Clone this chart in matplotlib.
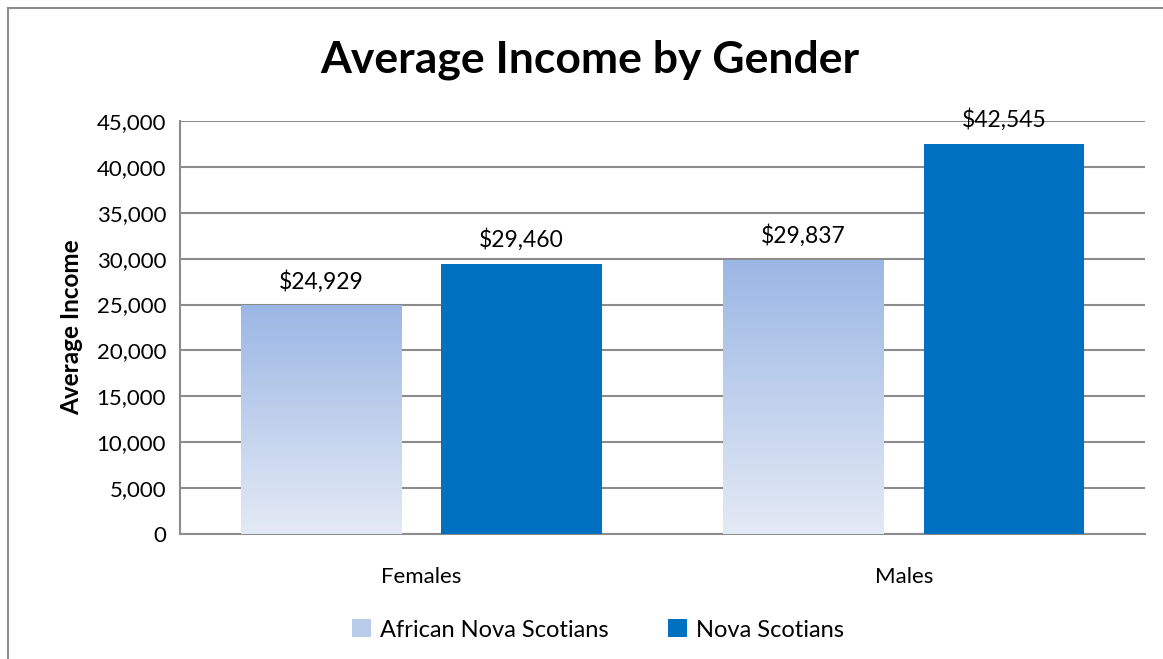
import numpy as np
import matplotlib.pyplot as plt
from matplotlib.patches import Rectangle
from matplotlib.ticker import FuncFormatter

categories = ['Females', 'Males']
series_names = ['African Nova Scotians', 'Nova Scotians']
ans_values = [24929, 29837]
ns_values = [29460, 42545]

plt.rcParams['font.family'] = ['Lato', 'DejaVu Sans']

fig = plt.figure(figsize=(11.63, 6.59), dpi=100)
ax = fig.add_axes([180/1163, 1 - 534/659, 965/1163, 413/659])

# outer chart border
fig.patches.append(Rectangle((8/1163, -0.01), 1.02, 1 - 8/659 + 0.01, transform=fig.transFigure,
                             fill=False, edgecolor='#8c8c8c', linewidth=1.5))

x = np.arange(len(categories))
w = 0.333
off = (w + 0.083) / 2

grad_top = np.array([155, 183, 228]) / 255
grad_bot = np.array([228, 234, 245]) / 255
ramp = np.linspace(0, 1, 256)[:, None]
grad_img = (grad_bot * (1 - ramp) + grad_top * ramp)[:, None, :]

bars1 = ax.bar(x - off, ans_values, w, color='none', edgecolor='none', label=series_names[0], zorder=3)
for b in bars1:
    ax.imshow(grad_img, extent=[b.get_x(), b.get_x() + b.get_width(), 0, b.get_height()],
              origin='lower', aspect='auto', zorder=3)
bars2 = ax.bar(x + off, ns_values, w, color='#0070C0', label=series_names[1], zorder=3)

for b, v in list(zip(bars1, ans_values)) + list(zip(bars2, ns_values)):
    ax.text(b.get_x() + b.get_width() / 2, v + 1400, f'${v:,}', ha='center', va='bottom', fontsize=16.5)

ax.set_xlim(-0.5, 1.5)
ax.set_ylim(0, 45000)
ax.set_yticks(np.arange(0, 45001, 5000))
ax.yaxis.set_major_formatter(FuncFormatter(lambda v, p: f'{int(v):,}'))
ax.set_xticks(x)
ax.set_xticklabels(categories)
ax.tick_params(axis='both', length=0, labelsize=16, pad=10)
ax.tick_params(axis='x', pad=24)
ax.grid(axis='y', color='#8c8c8c', linewidth=1.5, zorder=0)
ax.set_axisbelow(True)
for s in ['top', 'right']:
    ax.spines[s].set_visible(False)
for s in ['left', 'bottom']:
    ax.spines[s].set_color('#8c8c8c')
    ax.spines[s].set_linewidth(1.5)

ax.set_ylabel('Average Income', fontsize=17.5, fontweight='bold', labelpad=10)
fig.text(590/1163, 1 - 60/659, 'Average Income by Gender', ha='center', va='center',
         fontsize=32, fontweight='bold')

legend_patch = Rectangle((0, 0), 1, 1, facecolor=(grad_top * 0.6 + grad_bot * 0.4), edgecolor='none')
ax.legend([legend_patch, bars2[0]], series_names, loc='center', bbox_to_anchor=(598/1163, 1 - 630/659),
          bbox_transform=fig.transFigure, ncol=2, frameon=False, fontsize=17,
          handlelength=0.8, handleheight=0.8, handletextpad=0.4, columnspacing=2.5)

fig.savefig('out.png', dpi=100)
